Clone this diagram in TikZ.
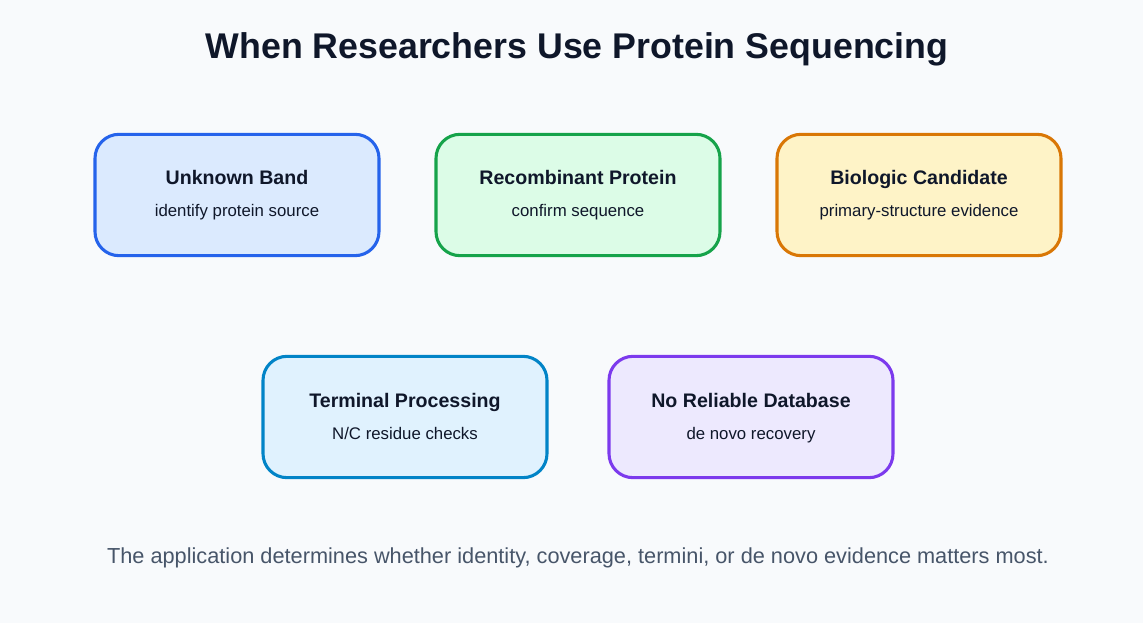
\documentclass[tikz,border=0pt]{standalone}
\usepackage{fontspec}
\setmainfont{Liberation Sans}
\usetikzlibrary{positioning}

\definecolor{pagebg}{HTML}{F8FAFC}
\definecolor{inkdark}{HTML}{0F172A}
\definecolor{inkgray}{HTML}{475569}
\definecolor{blueline}{HTML}{2563EB}\definecolor{bluefill}{HTML}{DBEAFE}
\definecolor{greenline}{HTML}{16A34A}\definecolor{greenfill}{HTML}{DCFCE7}
\definecolor{amberline}{HTML}{D97706}\definecolor{amberfill}{HTML}{FEF3C7}
\definecolor{skyline}{HTML}{0284C7}\definecolor{skyfill}{HTML}{E0F2FE}
\definecolor{violetline}{HTML}{7C3AED}\definecolor{violetfill}{HTML}{EDE9FE}

\begin{document}
\begin{tikzpicture}[x=0.75pt,y=-0.75pt]
\tikzset{
  usecase/.style={rounded corners=18pt,line width=2.3pt,minimum width=213pt,minimum height=91pt,inner sep=0pt},
  casetitle/.style={anchor=base,font=\bfseries\fontsize{14.7pt}{17pt}\selectfont,text=inkdark,inner sep=0pt},
  casenote/.style={anchor=base,font=\fontsize{12.6pt}{15pt}\selectfont,text=inkdark,inner sep=0pt}
}
\useasboundingbox[fill=pagebg] (0,0) rectangle (1143,623);
\node[anchor=base,inner sep=0pt,font=\bfseries\fontsize{26.8pt}{30pt}\selectfont,text=inkdark] (n_title) at (577,59) {When Researchers Use Protein Sequencing};

% top row
\node[usecase,draw=blueline,fill=bluefill] (n_band) at (237,195) {};
\node[casetitle] (t_band) at (237,185) {Unknown Band};
\node[casenote] (s_band) at (237,217) {identify protein source};

\node[usecase,draw=greenline,fill=greenfill] (n_recomb) at (578,195) {};
\node[casetitle] (t_recomb) at (578,185) {Recombinant Protein};
\node[casenote] (s_recomb) at (578,217) {confirm sequence};

\node[usecase,draw=amberline,fill=amberfill] (n_bio) at (919,195) {};
\node[casetitle] (t_bio) at (919,185) {Biologic Candidate};
\node[casenote] (s_bio) at (919,217) {primary-structure evidence};

% bottom row
\node[usecase,draw=skyline,fill=skyfill] (n_term) at (405,417) {};
\node[casetitle] (t_term) at (405,408) {Terminal Processing};
\node[casenote] (s_term) at (405,440) {N/C residue checks};

\node[usecase,draw=violetline,fill=violetfill] (n_denovo) at (751,417) {};
\node[casetitle] (t_denovo) at (751,408) {No Reliable Database};
\node[casenote] (s_denovo) at (751,440) {de novo recovery};

\node[anchor=base,inner sep=0pt,font=\fontsize{16.3pt}{19pt}\selectfont,text=inkgray] (n_footer) at (578,563) {The application determines whether identity, coverage, termini, or de novo evidence matters most.};
\end{tikzpicture}
\end{document}
